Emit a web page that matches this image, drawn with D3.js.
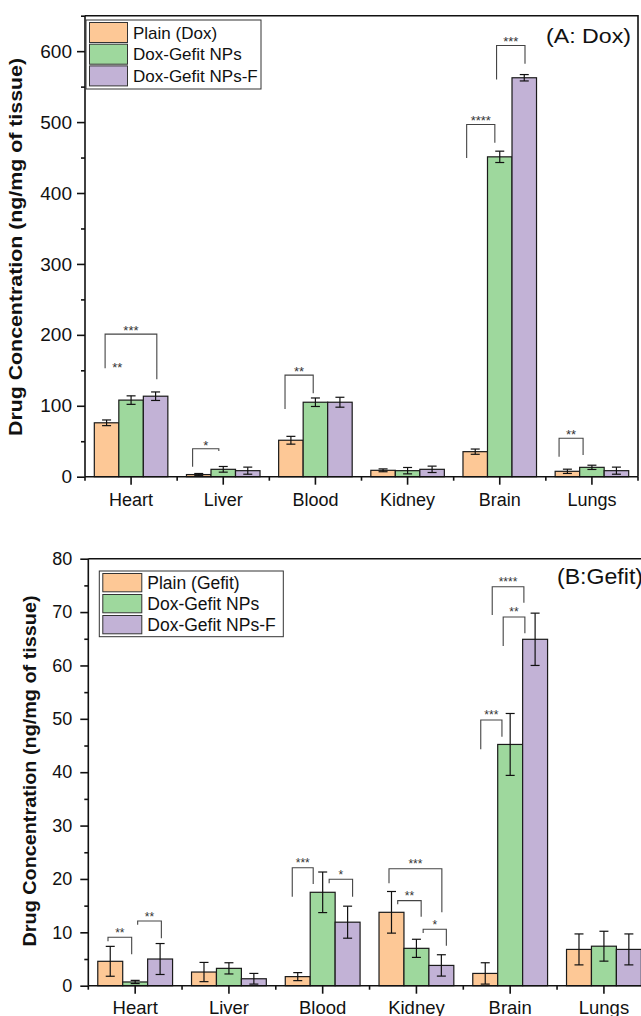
<!DOCTYPE html>
<html>
<head>
<meta charset="utf-8">
<script src="https://cdn.jsdelivr.net/npm/d3@7"></script>
<style>
  body { margin: 0; background: #fff; }
  svg { display: block; }
  text { font-family: "Liberation Sans", Arial, sans-serif; fill: #111; }
</style>
</head>
<body>
<svg id="chart" width="641" height="1016"></svg>
<script>
// ---- data ----
const categories = ["Heart", "Liver", "Blood", "Kidney", "Brain", "Lungs"];

const doxSeries = ["Plain (Dox)", "Dox-Gefit NPs", "Dox-Gefit NPs-F"];
const doxPlain = [76, 3, 51.4, 9, 35.3, 7.6];
const doxPlainErr = [4, 1.5, 5.5, 2, 3.7, 3];
const doxNP = [108, 10.4, 105, 8.5, 451, 13.2];
const doxNPErr = [6, 4, 6, 4.5, 8, 3];
const doxNPF = [113.5, 8.5, 105, 10.4, 562.5, 8.5];
const doxNPFErr = [6, 5, 7, 4.5, 4.5, 5];
const doxTicks = [0, 100, 200, 300, 400, 500, 600];

const gefitSeries = ["Plain (Gefit)", "Dox-Gefit NPs", "Dox-Gefit NPs-F"];
const gefitPlain = [4.57, 2.56, 1.7, 13.75, 2.3, 6.8];
const gefitPlainErr = [2.8, 1.8, 0.75, 3.9, 2, 2.9];
const gefitNP = [0.7, 3.25, 17.5, 7.0, 45.2, 7.4];
const gefitNPErr = [0.3, 1.05, 3.8, 1.7, 5.8, 2.8];
const gefitNPF = [5.0, 1.3, 11.9, 3.8, 64.9, 6.8];
const gefitNPFErr = [2.9, 1.0, 3.0, 2.0, 4.9, 2.9];
const gefitTicks = [0, 10, 20, 30, 40, 50, 60, 70, 80];

// significance brackets: organ, slot span (0 = first bar centre, 2 = last),
// bracket height and the two leg ends in data units
const doxBrackets = [
  { cat: "Heart", s0: -0.06, s1: 2.05, top: 201, l0: 153, l1: 137.5, label: "***" },
  { cat: "Liver", s0: -0.25, s1: 0.82, top: 39.4, l0: 14.1, l1: 36.3, label: "*" },
  { cat: "Blood", s0: -0.24, s1: 0.91, top: 143.2, l0: 95.6, l1: 117.7, label: "**" },
  { cat: "Brain", s0: -0.35, s1: 0.80, top: 496.6, l0: 449.5, l1: 470.7, label: "****" },
  { cat: "Brain", s0: 0.87, s1: 2.03, top: 608, l0: 560, l1: 582.2, label: "***" },
  { cat: "Lungs", s0: -0.34, s1: 0.64, top: 54.2, l0: 28.2, l1: 30.6, label: "**" }
];
const doxNotes = [{ cat: "Heart", s: 0.44, v: 147.8, label: "**" }];

const gefitBrackets = [
  { cat: "Heart", s0: -0.09, s1: 0.86, top: 9.07, l0: 8.32, l1: 5.88, label: "**" },
  { cat: "Heart", s0: 1.10, s1: 2.05, top: 12.12, l0: 11.43, l1: 8.88, label: "**" },
  { cat: "Blood", s0: -0.22, s1: 0.62, top: 22.1, l0: 16.67, l1: 19.05, label: "***" },
  { cat: "Blood", s0: 1.26, s1: 2.20, top: 19.93, l0: 19.19, l1: 16.67, label: "*" },
  { cat: "Kidney", s0: -0.10, s1: 2.02, top: 21.92, l0: 19.19, l1: 13.75, label: "***" },
  { cat: "Kidney", s0: 0.25, s1: 1.19, top: 15.93, l0: 15.25, l1: 12.93, label: "**" },
  { cat: "Kidney", s0: 1.27, s1: 2.20, top: 10.57, l0: 9.87, l1: 7.49, label: "*" },
  { cat: "Brain", s0: -0.18, s1: 0.67, top: 49.78, l0: 44.29, l1: 46.65, label: "***" },
  { cat: "Brain", s0: 0.28, s1: 1.55, top: 74.75, l0: 69.45, l1: 71.76, label: "****" },
  { cat: "Brain", s0: 0.72, s1: 1.59, top: 69.08, l0: 63.64, l1: 66.02, label: "**" }
];
const gefitNotes = [];

const colors = ["#FDC896", "#9ED89D", "#C2B2D6"];

// ---- drawing ----
const svg = d3.select("#chart");
const axisTitle = "Drug Concentration (ng/mg of tissue)";

function drawPanel(p) {
  const g = svg.append("g");
  const x = d3.scaleBand().domain(categories).range([p.x0, p.x1]);
  const xs = d3.scaleBand().domain([0, 1, 2]).range([0, x.bandwidth()]).paddingOuter(0.38);
  const y = d3.scaleLinear().domain([0, p.yMax]).range([p.y1, p.y0]);
  const bw = xs.bandwidth();
  const slotX = (cat, s) => x(cat) + xs(0) + (s + 0.5) * bw;

  // bars
  p.values.forEach((vals, si) => {
    g.append("g").selectAll("rect").data(categories).join("rect")
      .attr("x", c => x(c) + xs(si))
      .attr("width", bw)
      .attr("y", (c, i) => y(vals[i]))
      .attr("height", (c, i) => y(0) - y(vals[i]))
      .attr("fill", colors[si])
      .attr("stroke", "#1a1a1a")
      .attr("stroke-width", 1.2);
  });

  // error bars
  p.values.forEach((vals, si) => {
    const errs = p.errors[si];
    const eg = g.append("g").attr("stroke", "#111").attr("stroke-width", 1.2).attr("fill", "none");
    categories.forEach((c, i) => {
      const cx = slotX(c, si);
      const hi = y(vals[i] + errs[i]);
      const lo = y(Math.max(0, vals[i] - errs[i]));
      eg.append("line").attr("x1", cx).attr("x2", cx).attr("y1", hi).attr("y2", lo);
      eg.append("line").attr("x1", cx - p.cap).attr("x2", cx + p.cap).attr("y1", hi).attr("y2", hi);
      eg.append("line").attr("x1", cx - p.cap).attr("x2", cx + p.cap).attr("y1", lo).attr("y2", lo);
    });
  });

  // significance brackets
  const bg = g.append("g");
  p.brackets.forEach(b => {
    const xa = slotX(b.cat, b.s0), xb = slotX(b.cat, b.s1);
    bg.append("path")
      .attr("d", `M${xa},${y(b.l0)}V${y(b.top)}H${xb}V${y(b.l1)}`)
      .attr("fill", "none").attr("stroke", "#444").attr("stroke-width", 1.1);
    bg.append("text")
      .attr("x", (xa + xb) / 2).attr("y", y(b.top) + p.starShift)
      .attr("text-anchor", "middle").attr("font-size", p.starSize)
      .style("fill", "#333").text(b.label);
  });
  p.notes.forEach(n => {
    bg.append("text")
      .attr("x", slotX(n.cat, n.s)).attr("y", y(n.v))
      .attr("text-anchor", "middle").attr("font-size", p.starSize)
      .style("fill", "#333").text(n.label);
  });

  // frame (top and right edges)
  g.append("path")
    .attr("d", `M${p.x0},${p.y0}H${p.x1}V${p.y1}`)
    .attr("fill", "none").attr("stroke", "#111").attr("stroke-width", 1.6);

  // y axis
  const minor = d3.range(p.minorStep, p.yMax + 0.001, p.minorStep * 2);
  g.append("g").attr("transform", `translate(${p.x0},0)`)
    .call(d3.axisLeft(y).tickValues(minor).tickSize(4).tickSizeOuter(0).tickFormat(""))
    .call(a => a.select(".domain").remove())
    .call(a => a.selectAll("line").attr("stroke", "#111").attr("stroke-width", 1.6));
  const ya = g.append("g").attr("transform", `translate(${p.x0},0)`)
    .call(d3.axisLeft(y).tickValues(p.ticks).tickSize(8).tickSizeOuter(0).tickPadding(p.yPad));
  ya.select(".domain").attr("stroke", "#111").attr("stroke-width", 1.6)
    .attr("d", `M0,${p.y0}V${p.y1}`);
  ya.selectAll("line").attr("stroke", "#111").attr("stroke-width", 1.6);
  ya.selectAll("text").attr("font-size", p.tickSize).style("fill", "#111");

  // x axis
  const xa = g.append("g").attr("transform", `translate(0,${p.y1})`)
    .call(d3.axisBottom(x).tickSize(8).tickSizeOuter(0).tickPadding(p.xPad));
  xa.select(".domain").attr("stroke", "#111").attr("stroke-width", 1.6)
    .attr("d", `M${p.x0},0H${p.x1}`);
  xa.selectAll("line").attr("stroke", "#111").attr("stroke-width", 1.6);
  xa.selectAll("text").attr("font-size", p.catSize).style("fill", "#111");
  const bounds = categories.map(c => x(c)).concat([p.x1]);
  xa.append("g").selectAll("line").data(bounds).join("line")
    .attr("x1", d => d).attr("x2", d => d).attr("y1", 0).attr("y2", 4)
    .attr("stroke", "#111").attr("stroke-width", 1.6);

  // y title
  g.append("text")
    .attr("transform", `translate(${p.titleX},${p.titleY}) rotate(-90)`)
    .attr("text-anchor", "middle")
    .attr("font-size", p.titleSize).attr("font-weight", "bold")
    .attr("textLength", p.titleLen).attr("lengthAdjust", "spacingAndGlyphs")
    .text(axisTitle);

  // panel tag
  g.append("text")
    .attr("x", p.tagX).attr("y", p.tagY)
    .attr("font-size", p.tagSize)
    .attr("textLength", p.tagLen).attr("lengthAdjust", "spacingAndGlyphs")
    .text(p.tag);

  // legend
  const lg = g.append("g").attr("transform", `translate(${p.legX},${p.legY})`);
  lg.append("rect").attr("width", p.legW).attr("height", p.legH)
    .attr("fill", "#fff").attr("stroke", "#333").attr("stroke-width", 1);
  p.series.forEach((s, i) => {
    lg.append("rect")
      .attr("x", 3.5).attr("y", 2.5 + i * p.legStep)
      .attr("width", p.swW).attr("height", p.swH)
      .attr("fill", colors[i]).attr("stroke", "#333").attr("stroke-width", 1);
    lg.append("text")
      .attr("x", p.swW + 9).attr("y", 2.5 + i * p.legStep + p.swH / 2 + p.legSize * 0.36)
      .attr("font-size", p.legSize).text(s);
  });
}

drawPanel({
  x0: 85, x1: 638, y0: 15.7, y1: 476.7, yMax: 650, minorStep: 50,
  ticks: doxTicks, series: doxSeries,
  values: [doxPlain, doxNP, doxNPF], errors: [doxPlainErr, doxNPErr, doxNPFErr],
  brackets: doxBrackets, notes: doxNotes,
  cap: 4.5, starSize: 13, starShift: 1,
  tickSize: 19, yPad: 5, catSize: 18, xPad: 9,
  titleX: 22, titleY: 247, titleSize: 17.5, titleLen: 378,
  tag: "(A: Dox)", tagX: 546, tagY: 43, tagSize: 21, tagLen: 85,
  legX: 86, legY: 20, legW: 175, legH: 69, legStep: 21.7, swW: 38, swH: 20, legSize: 17
});

drawPanel({
  x0: 88.3, x1: 650.8, y0: 558.7, y1: 985.7, yMax: 80, minorStep: 5,
  ticks: gefitTicks, series: gefitSeries,
  values: [gefitPlain, gefitNP, gefitNPF], errors: [gefitPlainErr, gefitNPErr, gefitNPFErr],
  brackets: gefitBrackets, notes: gefitNotes,
  cap: 4.5, starSize: 12, starShift: -0.5,
  tickSize: 18, yPad: 8, catSize: 18.5, xPad: 7,
  titleX: 36, titleY: 771, titleSize: 18, titleLen: 351,
  tag: "(B:Gefit)", tagX: 557, tagY: 584, tagSize: 22, tagLen: 86,
  legX: 99.3, legY: 571, legW: 184, legH: 65.7, legStep: 21, swW: 39, swH: 18.3, legSize: 17.5
});
</script>
</body>
</html>
